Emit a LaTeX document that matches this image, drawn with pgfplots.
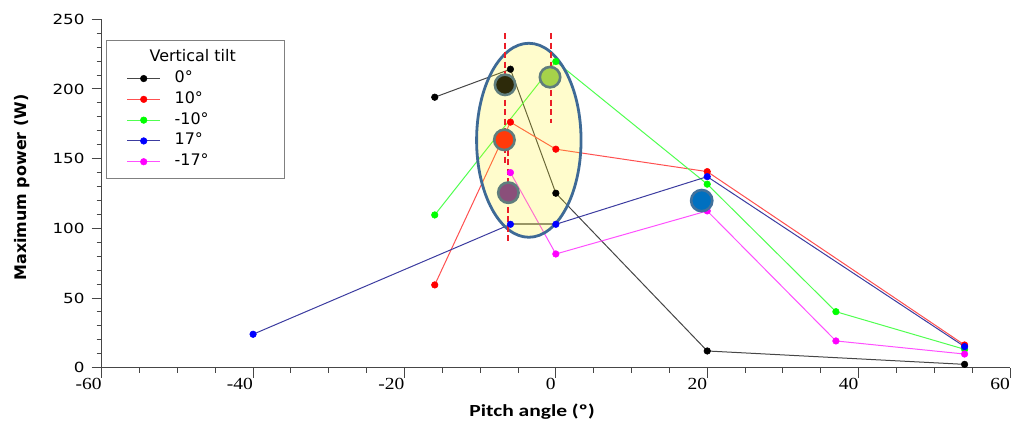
\documentclass[border=0pt]{standalone}
\usepackage{pgfplots}
\pgfplotsset{compat=1.18}
\usepackage{fontspec}
\setmainfont{DejaVu Sans}
\newfontfamily\ytickfont[FakeStretch=1.2]{DejaVu Sans}
\newfontfamily\xtickfont[FakeStretch=1.15]{Liberation Serif}
\newfontfamily\xlabfont[FakeStretch=1.27]{Carlito}
\definecolor{axgray}{RGB}{70,70,70}
\definecolor{leggray}{RGB}{128,128,128}
\definecolor{lblack}{RGB}{70,70,70}
\definecolor{lred}{RGB}{255,80,80}
\definecolor{lgreen}{RGB}{80,255,80}
\definecolor{lblue}{RGB}{60,60,160}
\definecolor{lmag}{RGB}{255,80,255}
\definecolor{mred}{RGB}{255,0,0}
\definecolor{mgreen}{RGB}{0,255,0}
\definecolor{mblue}{RGB}{0,0,255}
\definecolor{mmag}{RGB}{255,0,255}
\definecolor{ellblue}{RGB}{62,106,150}
\definecolor{ringgray}{RGB}{95,125,125}
\definecolor{cdark}{RGB}{45,42,10}
\definecolor{cgreen}{RGB}{166,210,74}
\definecolor{cred}{RGB}{255,58,10}
\definecolor{cpurple}{RGB}{138,79,122}
\definecolor{cblue}{RGB}{0,112,192}
\definecolor{cblueb}{RGB}{65,113,156}
\definecolor{dashred}{RGB}{235,30,40}
\begin{document}
\begin{tikzpicture}
\begin{axis}[
  at={(0,0)}, anchor=south west,
  scale only axis, width=908.3bp, height=348.4bp,
  xmin=-60, xmax=60, ymin=0, ymax=250,
  axis x line*=bottom, axis y line*=left,
  axis line style={axgray, line width=1.2bp},
  xtick={-60,-40,...,60}, ytick={0,50,...,250},
  minor x tick num=3, minor y tick num=4,
  tick align=outside,
  major tick length=10bp, minor tick length=5bp,
  every tick/.style={axgray, line width=1bp},
  /pgf/number format/assume math mode=true,
  xticklabel style={font=\xtickfont\fontsize{17}{17}\selectfont, anchor=north east, inner sep=0pt},
  yticklabel style={font=\ytickfont\fontsize{14}{14}\selectfont, anchor=east, inner sep=0pt, xshift=-7bp},
  xlabel={Pitch angle (º)},
  ylabel={Maximum power (W)},
  every axis x label/.style={at={(rel axis cs:0.4738,0)}, yshift=-44.3bp, anchor=center, font=\xlabfont\bfseries\fontsize{17}{17}\selectfont},
  every axis y label/.style={at={(rel axis cs:-0.0877,0.517)}, rotate=90, anchor=center, font=\bfseries\fontsize{16}{16}\selectfont},
  legend image code/.code={\draw[mark repeat=2,mark phase=2] plot coordinates {(0bp,0bp)(16.5bp,0bp)(33bp,0bp)};},
  legend style={at={(rel axis cs:0.0047,0.9406)}, anchor=north west, draw=leggray, line width=1.5bp, fill=white,
    font=\fontsize{16}{19}\selectfont, inner xsep=20bp, inner ysep=10bp, row sep=6.8bp, column sep=14bp,
    nodes={inner sep=0pt, text height=11bp, text depth=3bp}},
  legend cell align=left,
  clip=false,
]
\addlegendimage{empty legend}
\addlegendentry{\hspace*{-25bp}Vertical tilt}
\addplot[color=lblack, line width=1bp, mark=*, mark size=3.3bp, mark options={fill=black, draw=black, line width=0.5bp}]
  coordinates {(-16,194.1) (-6,214.2) (0,125.2) (20,12.0) (54,2.4)};
\addlegendentry{\makebox[90bp][l]{0°}}
\addplot[color=lred, line width=1bp, mark=*, mark size=3.3bp, mark options={fill=mred, draw=mred, line width=0.5bp}]
  coordinates {(-16,59.4) (-6,176.2) (0,156.8) (20,140.7) (54,16.3)};
\addlegendentry{\makebox[90bp][l]{10°}}
\addplot[color=lgreen, line width=1bp, mark=*, mark size=3.3bp, mark options={fill=mgreen, draw=mgreen, line width=0.5bp}]
  coordinates {(-16,109.6) (0,219.7) (20,131.7) (37,40.2) (54,13.2)};
\addlegendentry{\makebox[90bp][l]{-10°}}
\addplot[color=lblue, line width=1bp, mark=*, mark size=3.3bp, mark options={fill=mblue, draw=mblue, line width=0.5bp}]
  coordinates {(-40,24.0) (-6,102.9) (0,102.9) (20,137.1) (54,15.1)};
\addlegendentry{\makebox[90bp][l]{17°}}
\addplot[color=lmag, line width=1bp, mark=*, mark size=3.3bp, mark options={fill=mmag, draw=mmag, line width=0.5bp}]
  coordinates {(-6,140.0) (0,81.6) (20,112.5) (37,19.2) (54,9.8)};
\addlegendentry{\makebox[90bp][l]{-17°}}
% gray segment between blue points
\addplot[forget plot, color=gray, line width=2.2bp] coordinates {(-5.6,102.9) (-0.4,102.9)};
% highlighted region
\draw[draw=ellblue, line width=2.8bp, fill=yellow, fill opacity=0.2] (axis cs:-3.57,163.2) ellipse [x radius=6.9, y radius=69.6];
% highlight circles
\addplot[forget plot, only marks, mark=*, mark size=10.2bp, mark options={line width=2.6bp, draw=ringgray, fill=cdark}] coordinates {(-6.71,203.0)};
\addplot[forget plot, only marks, mark=*, mark size=10.2bp, mark options={line width=2.6bp, draw=ringgray, fill=cgreen}] coordinates {(-0.77,208.5)};
\addplot[forget plot, only marks, mark=*, mark size=10.2bp, mark options={line width=2.6bp, draw=ringgray, fill=cred}] coordinates {(-6.8,163.5)};
\addplot[forget plot, only marks, mark=*, mark size=10.2bp, mark options={line width=2.6bp, draw=ringgray, fill=cpurple}] coordinates {(-6.27,125.6)};
\addplot[forget plot, only marks, mark=*, mark size=10.6bp, mark options={line width=2.6bp, draw=cblueb, fill=cblue}] coordinates {(19.27,119.9)};
% dashed reference lines
\addplot[forget plot, color=dashred, line width=1.8bp, dash pattern=on 6bp off 3.5bp] coordinates {(-6.71,240) (-6.71,146.7)};
\addplot[forget plot, color=dashred, line width=1.8bp, dash pattern=on 6bp off 3.5bp] coordinates {(-6.27,156.3) (-6.27,90.2)};
\addplot[forget plot, color=dashred, line width=1.8bp, dash pattern=on 6bp off 3.5bp] coordinates {(-0.67,240) (-0.67,175.4)};
\end{axis}
\pgfresetboundingbox
\path (-101.7bp,-55.3bp) rectangle (909.3bp,367.7bp);
\end{tikzpicture}
\end{document}
